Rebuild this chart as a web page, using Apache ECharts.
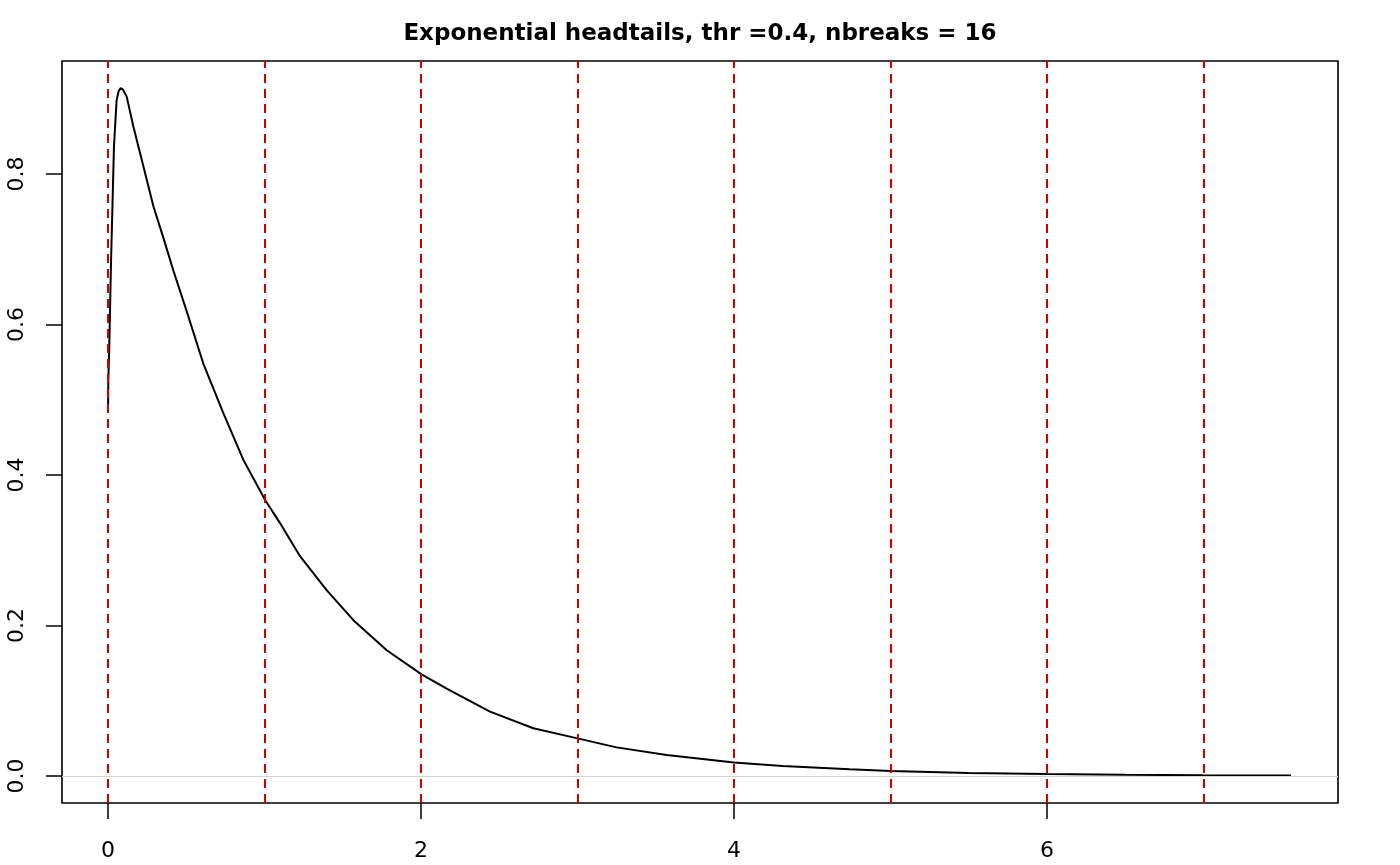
<!DOCTYPE html>
<html>
<head>
<meta charset="utf-8">
<script src="https://cdn.jsdelivr.net/npm/echarts@6/dist/echarts.min.js"></script>
<style>html,body{margin:0;padding:0;background:#fff;}#c{width:1400px;height:865px;}</style>
</head>
<body>
<div id="c"></div>
<script>
const titleText = "Exponential headtails, thr =0.4, nbreaks = 16";
const densX = [0.0005, 0.002, 0.008, 0.019, 0.030, 0.038, 0.055, 0.068, 0.081, 0.095, 0.119, 0.162, 0.226, 0.290, 0.354, 0.417, 0.502, 0.609, 0.737, 0.865, 1.003, 1.099, 1.227, 1.397, 1.568, 1.781, 2.004, 2.164, 2.441, 2.718, 3.0, 3.25, 3.57, 4.0, 4.31, 4.74, 5.0, 5.5, 6.0, 6.5, 7.0, 7.56];
const densY = [0.493, 0.526, 0.570, 0.681, 0.770, 0.836, 0.898, 0.910, 0.914, 0.912, 0.903, 0.863, 0.810, 0.757, 0.715, 0.672, 0.618, 0.548, 0.482, 0.420, 0.367, 0.336, 0.292, 0.247, 0.207, 0.167, 0.135, 0.116, 0.0855, 0.0634, 0.05, 0.038, 0.028, 0.018, 0.0133, 0.0089, 0.0066, 0.0041, 0.0025, 0.0015, 0.0009, 0.0005];
const breaks = [0, 1, 2, 3, 4, 5, 6, 7];
const xTicks = [0, 2, 4, 6];
const yTicks = [0, 0.2, 0.4, 0.6, 0.8];
const xRange = [-0.294, 7.86];
const yRange = [-0.0359, 0.950];

const chart = echarts.init(document.getElementById('c'), null, {renderer: 'canvas'});
const font = 'DejaVu Sans';
chart.setOption({
  animation: false,
  backgroundColor: '#ffffff',
  title: {
    text: titleText, left: 'center', top: 18,
    textStyle: {fontFamily: font, fontWeight: 'bold', fontSize: 23, color: '#000'}
  },
  grid: {left: 62, right: 62, top: 61, bottom: 62, show: true, borderColor: '#000', borderWidth: 1.6, backgroundColor: 'transparent'},
  xAxis: {
    type: 'value', min: xRange[0], max: xRange[1],
    axisLine: {show: false, onZero: false},
    splitLine: {show: false},
    axisTick: {show: true, inside: false, customValues: xTicks, length: 16, lineStyle: {color: '#000', width: 1.5}},
    axisLabel: {customValues: xTicks, margin: 37, fontFamily: font, fontSize: 22, color: '#000', formatter: v => String(v)}
  },
  yAxis: {
    type: 'value', min: yRange[0], max: yRange[1],
    axisLine: {show: false, onZero: false},
    splitLine: {show: false},
    axisTick: {show: true, inside: false, customValues: yTicks, length: 16, lineStyle: {color: '#000', width: 1.5}},
    axisLabel: {customValues: yTicks, rotate: 90, margin: 34, fontFamily: font, fontSize: 22, color: '#000', formatter: v => v.toFixed(1)}
  },
  series: [
    {
      type: 'line', data: [], silent: true,
      markLine: {
        silent: true, symbol: 'none', label: {show: false},
        lineStyle: {color: '#D3D3D3', width: 1, type: 'solid'},
        data: [{yAxis: 0}]
      }
    },
    {
      type: 'line', silent: true, showSymbol: false, symbol: 'none',
      smooth: false,
      data: densX.map((x, i) => [x, densY[i]]),
      lineStyle: {color: '#000', width: 2},
      z: 3
    },
    {
      type: 'line', data: [], silent: true,
      markLine: {
        silent: true, symbol: 'none', label: {show: false},
        lineStyle: {color: '#CD0000', width: 2, type: [9, 6]},
        data: breaks.map(b => ({xAxis: b}))
      },
      z: 4
    }
  ]
});
</script>
</body>
</html>
